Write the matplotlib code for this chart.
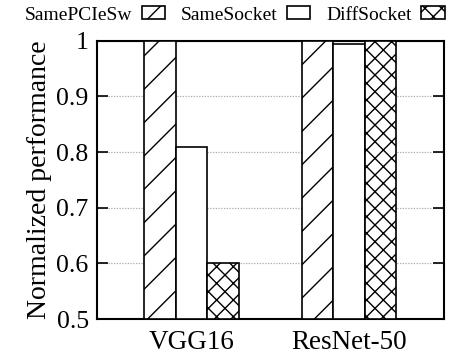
import numpy as np
import matplotlib
matplotlib.use("Agg")
import matplotlib.pyplot as plt

plt.rcParams['font.family'] = ['Liberation Serif', 'DejaVu Serif']
plt.rcParams['hatch.linewidth'] = 1.0

# data
models = ["VGG16", "ResNet-50"]
series = ["SamePCIeSw", "SameSocket", "DiffSocket"]
same_pcie = [1.0, 1.0]
same_socket = [0.81, 0.995]
diff_socket = [0.60, 1.0]
hatches = ["/", "", "xx"]

fig = plt.figure(figsize=(4.51, 3.55), dpi=100)
ax = fig.add_axes([0.215, 0.101, 0.769, 0.784])

x = np.arange(len(models))
w = 0.2
for i, (name, vals) in enumerate(zip(series, [same_pcie, same_socket, diff_socket])):
    ax.bar(x + (i - 1) * w, np.array(vals) - 0.5, w, bottom=0.5, color="white",
           edgecolor="black", linewidth=1.2, hatch=hatches[i], label=name, zorder=3)

ax.set_xlim(-0.6, 1.6)
ax.set_ylim(0.5, 1.0)
ax.set_yticks([0.5, 0.6, 0.7, 0.8, 0.9, 1.0])
ax.set_yticklabels(["0.5", "0.6", "0.7", "0.8", "0.9", "1"])
ax.set_xticks(x)
ax.set_xticklabels(models)
ax.tick_params(axis="y", direction="in", length=8, width=1.2, right=True, labelsize=18.5, pad=6)
ax.tick_params(axis="x", length=0, labelsize=19.5, pad=8)
ax.set_ylabel("Normalized performance", fontsize=20, labelpad=3)
ax.yaxis.grid(True, linestyle=(0, (1, 1.2)), color="#aaaaaa", linewidth=0.9, zorder=0)
for s in ax.spines.values():
    s.set_linewidth(1.5)

fig.legend(loc="upper center", bbox_to_anchor=(0.52, 1.015), ncol=3, frameon=False,
           markerfirst=False, fontsize=14, handlelength=1.2, handleheight=0.65,
           handletextpad=0.5, columnspacing=0.8, borderaxespad=0.2)

plt.savefig("out.png", dpi=100)
